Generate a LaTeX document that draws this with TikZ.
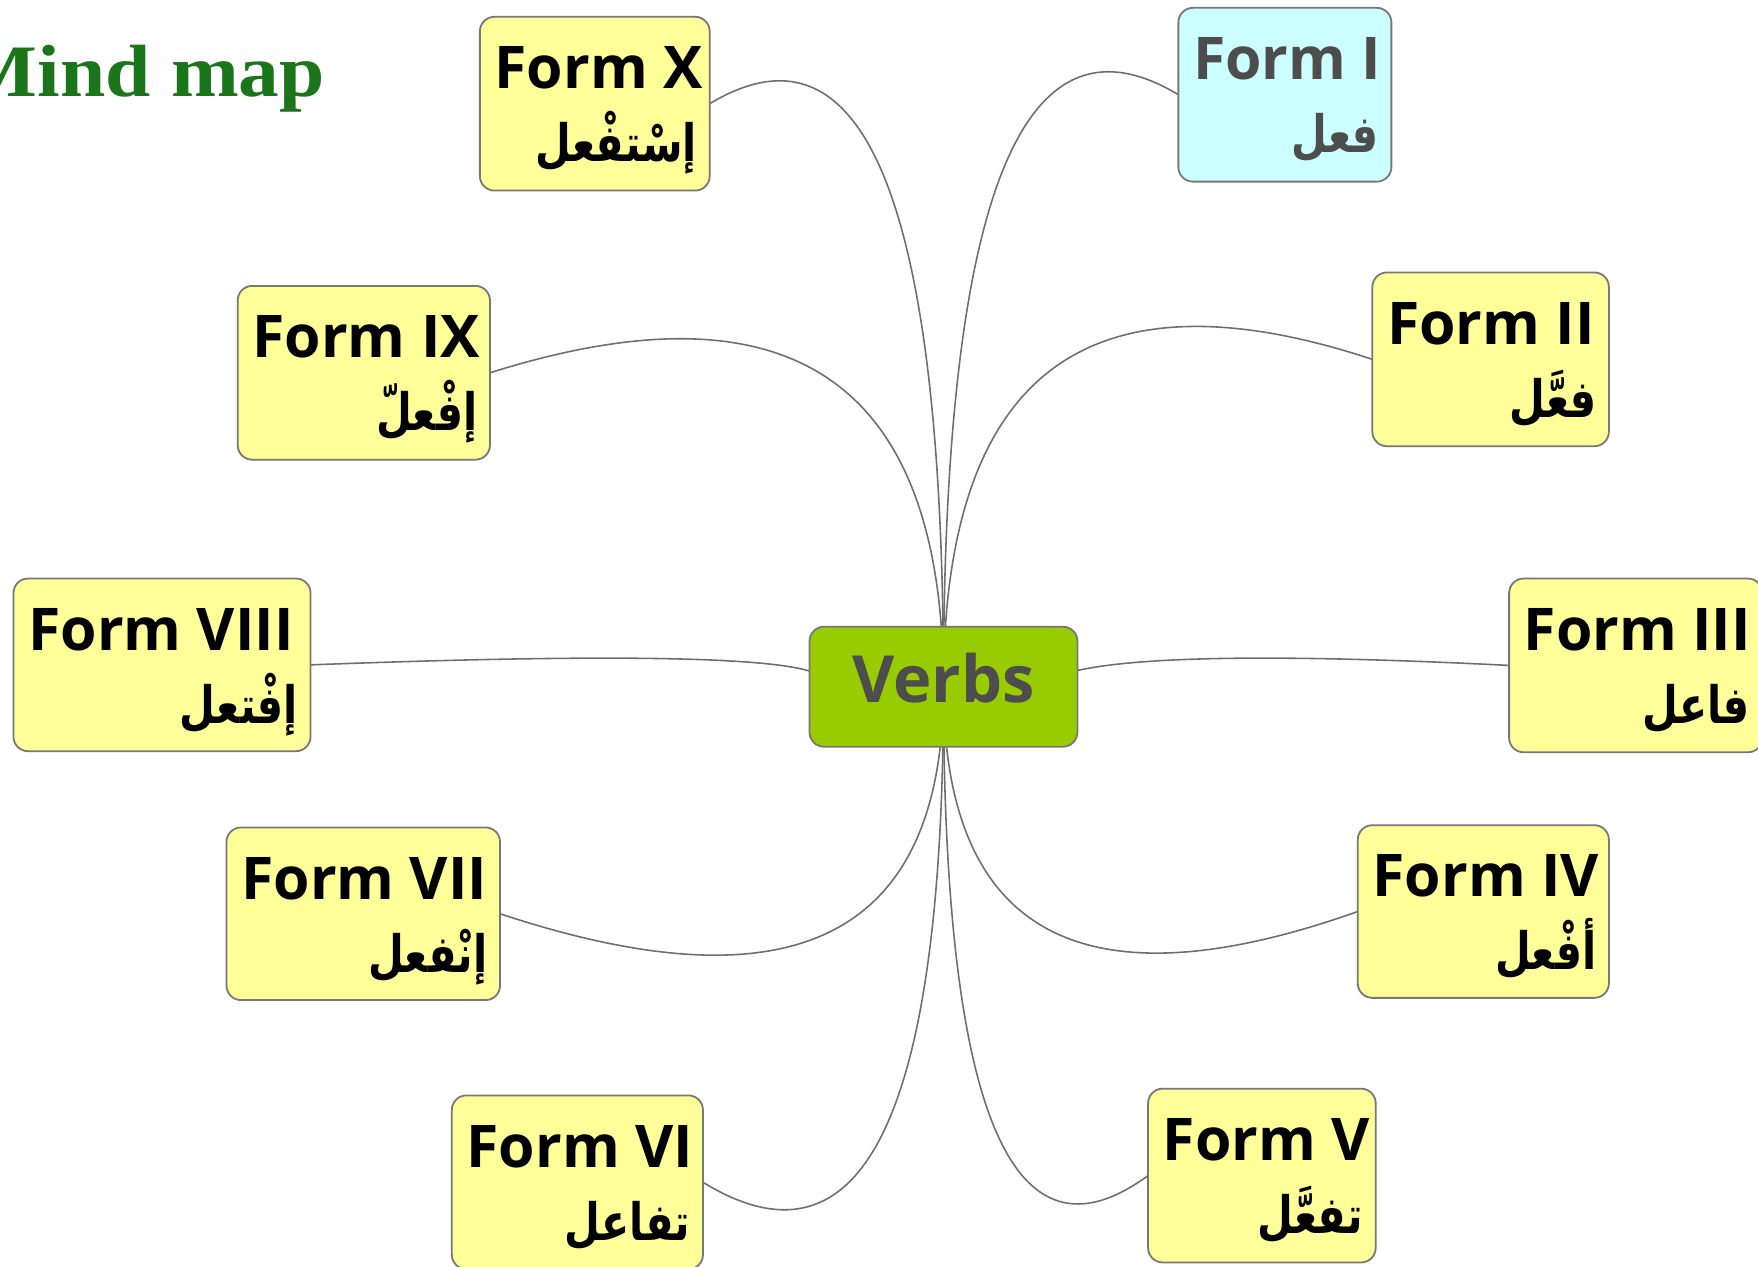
\documentclass[tikz,border=0pt]{standalone}
\usepackage{fontspec}
\setmainfont{Open Sans}
\newfontfamily\arabicfont[Script=Arabic,FakeStretch=0.8]{DejaVu Sans}
\newfontfamily\titlefont[FakeStretch=1.1]{Liberation Serif}
\TeXXeTstate=1
\usetikzlibrary{calc,backgrounds}
\definecolor{boxyellow}{HTML}{FFFF99}
\definecolor{boxcyan}{HTML}{CCFFFF}
\definecolor{rootgreen}{HTML}{99CC00}
\definecolor{edgegray}{HTML}{777777}
\definecolor{conngray}{HTML}{6E6E6E}
\definecolor{textgray}{HTML}{4D4D4D}
\definecolor{titlegreen}{HTML}{1B751B}
\tikzset{
  boxbase/.style={draw=edgegray, line width=1.6pt, rounded corners=13pt, inner sep=0pt, outer sep=0pt},
  yellowbox/.style={boxbase, fill=boxyellow},
  cyanbox/.style={boxbase, fill=boxcyan},
  rootbox/.style={boxbase, fill=rootgreen},
  entext/.style={inner sep=0pt, font=\fontsize{52.5}{62}\selectfont\bfseries},
  artext/.style={inner sep=0pt, font=\arabicfont\bfseries\fontsize{46}{54}\selectfont},
  conn/.style={draw=conngray, line width=1.4pt},
}
% #1 name, #2 x1, #3 y1, #4 x2, #5 y2, #6 box style, #7 text colour, #8 latin, #9 arabic
\newcommand\formnode[9]{%
  \node[#6, minimum width={#4-#2}, minimum height={#5-#3}] (#1) at ({(#2+#4)/2},{(#3+#5)/2}) {};
  \node[entext, text=#7, anchor=base west] (#1-en) at ({#2+13},{#3+64}) {#8};
  \node[artext, text=#7, anchor=base east] (#1-ar) at ({#4-11},{#3+129}) {\beginR #9\endR};
}
\newcommand\quadconn[3]{%
  \draw[conn] (#1) .. controls ($(#1)!2/3!(#2)$) and ($(#3)!2/3!(#2)$) .. (#3);
}
\begin{document}
\begin{tikzpicture}[x=1pt, y=-1pt]
\useasboundingbox (0,0) rectangle (1568,1129.2);

\node[anchor=base east, inner sep=0pt, text=titlegreen, font=\titlefont\bfseries\fontsize{66}{70}\selectfont] (title) at (290,86) {Mind map};

\node[rootbox, minimum width=239pt, minimum height=107pt, text=textgray,
      font=\fontsize{58}{60}\selectfont\bfseries, text height=41pt, text depth=12pt] (verbs) at (841.5,612.5) {Verbs};

\formnode{fX}{428}{15}{633}{170}{yellowbox}{black}{Form X}{إسْتفْعل}
\formnode{fI}{1051}{7}{1241}{162}{cyanbox}{textgray}{Form I}{فعل}
\formnode{fIX}{212}{255}{437}{410}{yellowbox}{black}{Form IX}{إفْعلّ}
\formnode{fII}{1224}{243}{1435}{398}{yellowbox}{black}{Form II}{فعَّل}
\formnode{fVIII}{12}{516}{277}{670}{yellowbox}{black}{Form VIII}{إفْتعل}
\formnode{fIII}{1346}{516}{1572}{671}{yellowbox}{black}{Form III}{فاعل}
\formnode{fVII}{202}{738}{446}{892}{yellowbox}{black}{Form VII}{إنْفعل}
\formnode{fIV}{1211}{736}{1435}{890}{yellowbox}{black}{Form IV}{أفْعل}
\formnode{fVI}{403}{977}{627}{1132}{yellowbox}{black}{Form VI}{تفاعل}
\formnode{fV}{1024}{971}{1227}{1126}{yellowbox}{black}{Form V}{تفعَّل}

\begin{scope}[on background layer]
  \fill[white] (0,0) rectangle (1568,1129.2);
  \coordinate (qX) at (841.5,-33);
  \coordinate (qI) at (841.5,-42);
  \coordinate (qIX) at (841.5,205);
  \coordinate (qII) at (841.5,194);
  \coordinate (qVII) at (841.5,946);
  \coordinate (qIV) at (841.5,944);
  \coordinate (qVI) at (841.5,1186);
  \coordinate (qV) at (841.5,1182);
  \coordinate (qVIII) at (656,578.7);
  \coordinate (qIII) at (1049,578.5);
  \coordinate (vl) at ($(verbs.west)+(0,-14)$);
  \coordinate (vr) at ($(verbs.east)+(0,-14.5)$);
  \quadconn{verbs.center}{qX}{fX.east}
  \quadconn{verbs.center}{qI}{fI.west}
  \quadconn{verbs.center}{qIX}{fIX.east}
  \quadconn{verbs.center}{qII}{fII.west}
  \quadconn{verbs.center}{qVII}{fVII.east}
  \quadconn{verbs.center}{qIV}{fIV.west}
  \quadconn{verbs.center}{qVI}{fVI.east}
  \quadconn{verbs.center}{qV}{fV.west}
  \quadconn{vl}{qVIII}{fVIII.east}
  \quadconn{vr}{qIII}{fIII.west}
\end{scope}
\end{tikzpicture}
\end{document}
